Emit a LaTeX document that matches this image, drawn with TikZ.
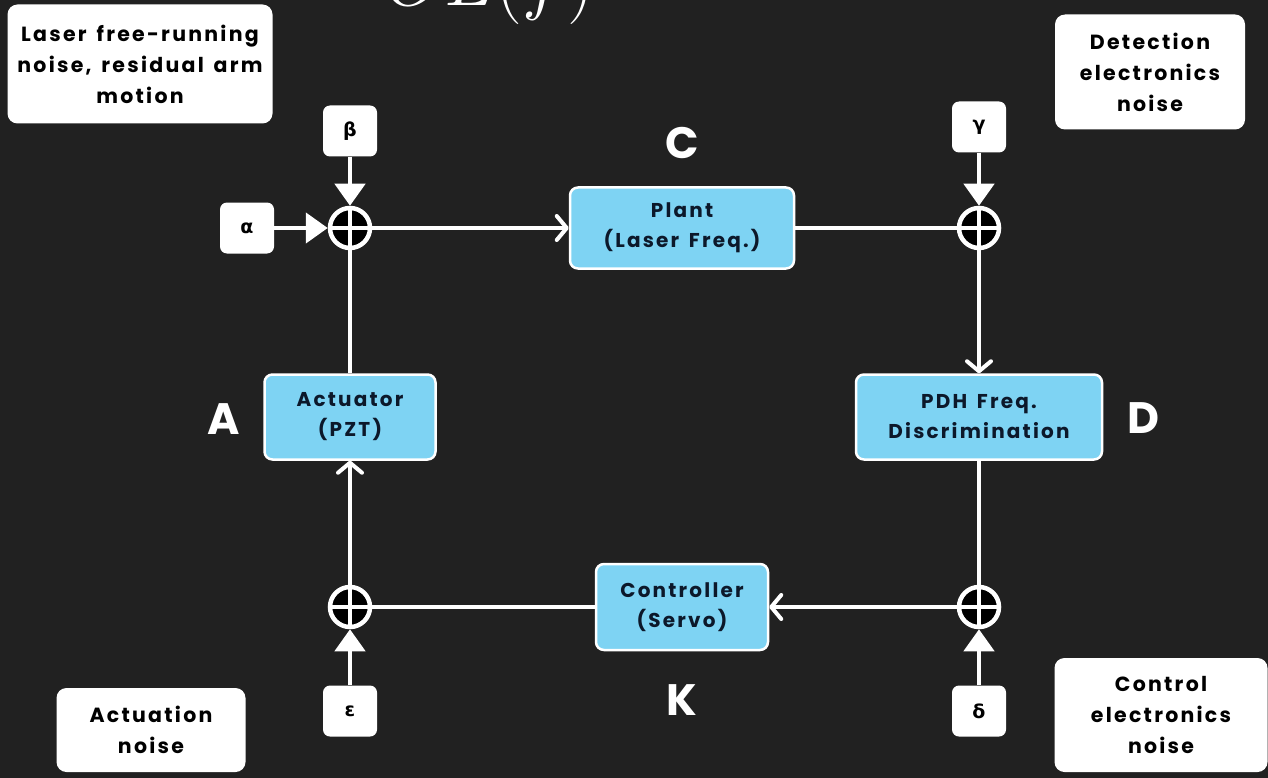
\RequirePackage{fix-cm}
\documentclass[tikz,border=0pt]{standalone}
\usepackage{fontspec}
\setmainfont{Poppins}[LetterSpace=11,WordSpace=1.5]
\newfontfamily\greekfont{DejaVu Sans}
\usetikzlibrary{arrows.meta}
\definecolor{bg}{RGB}{33,33,33}
\definecolor{boxblue}{RGB}{126,211,243}
\definecolor{ink}{RGB}{12,24,42}

\begin{document}
\begin{tikzpicture}[x=1pt,y=-1pt,
  blk/.style={draw=white, line width=2.5pt, fill=boxblue, rounded corners=8pt,
    text=ink, font=\fontsize{20}{30}\selectfont\bfseries, align=center, inner sep=0pt},
  note/.style={fill=white, rounded corners=10pt, text=black,
    font=\fontsize{20.5}{31}\selectfont\bfseries, align=center, inner sep=0pt},
  src/.style={fill=white, rounded corners=7pt, minimum width=54pt, minimum height=51pt,
    inner sep=0pt, text=black, font=\greekfont\fontsize{19}{19}\selectfont\bfseries},
  sum/.style={circle, draw=white, line width=4.5pt, fill=black, minimum size=40pt, inner sep=0pt,
    path picture={\draw[white, line width=4.5pt]
      (path picture bounding box.north) -- (path picture bounding box.south)
      (path picture bounding box.west) -- (path picture bounding box.east);}},
  wire/.style={white, line width=4.5pt},
  feed/.style={wire, -{Triangle[length=22pt,width=30pt]}},
  flow/.style={wire, -{Straight Barb[length=10pt,width=24pt,line width=4pt,round]}},
  tag/.style={text=white, font=\fontsize{44}{44}\selectfont\bfseries}
]
\useasboundingbox (0,0) rectangle (1268,778);
\fill[bg] (0,0) rectangle (1268,778);

% title formula, running off the top edge
\begin{scope}
  \clip (0,0) rectangle (1268,778);
  \node[anchor=base, text=white, inner sep=0pt, font=\fontsize{76}{76}\selectfont] (olf) at (490,6) {$OL(f)$};
\end{scope}

% noise descriptions
\node[note, minimum width=265pt, minimum height=119pt] (n1) at (140,64)
  {Laser free-running\\noise, residual arm\\motion};
\node[note, minimum width=190pt, minimum height=115pt] (n2) at (1150,72)
  {Detection\\electronics\\noise};
\node[note, minimum width=189pt, minimum height=84pt] (n3) at (151,730)
  {Actuation\\noise};
\node[note, minimum width=213pt, minimum height=114pt] (n4) at (1161,715)
  {Control\\electronics\\noise};

% loop blocks
\node[blk, minimum width=224pt, minimum height=81pt] (plant) at (682,228) {Plant\\(Laser Freq.)};
\node[blk, minimum width=171pt, minimum height=85pt] (act) at (350,417) {Actuator\\(PZT)};
\node[blk, minimum width=246pt, minimum height=85pt] (pdh) at (979,417) {PDH Freq.\\Discrimination};
\node[blk, minimum width=172pt, minimum height=86pt] (ctrl) at (682,607) {Controller\\(Servo)};

% summing junctions
\node[sum] (s1) at (350,228) {};
\node[sum] (s2) at (979,228) {};
\node[sum] (s3) at (350,607) {};
\node[sum] (s4) at (979,607) {};

% noise sources
\node[src] (beta) at (350,131) {β};
\node[src] (alpha) at (247,228) {α};
\node[src] (gamma) at (979,127) {γ};
\node[src] (eps) at (350,711) {ε};
\node[src] (delta) at (979,711) {δ};

% block letters
\node[tag] (lc) at (682,143) {C};
\node[tag] (la) at (224,419) {A};
\node[tag] (ld) at (1143,418) {D};
\node[tag] (lk) at (682,700) {K};

% signal paths
\draw[feed] (beta) -- (s1);
\draw[feed] (alpha) -- (s1);
\draw[flow] (s1) -- (plant);
\draw[wire] (plant) -- (s2);
\draw[feed] (gamma) -- (s2);
\draw[flow] (s2) -- (pdh);
\draw[wire] (pdh) -- (s4);
\draw[feed] (delta) -- (s4);
\draw[flow] (s4) -- (ctrl);
\draw[wire] (ctrl) -- (s3);
\draw[feed] (eps) -- (s3);
\draw[flow] (s3) -- (act);
\draw[wire] (act) -- (s1);
\end{tikzpicture}
\end{document}
